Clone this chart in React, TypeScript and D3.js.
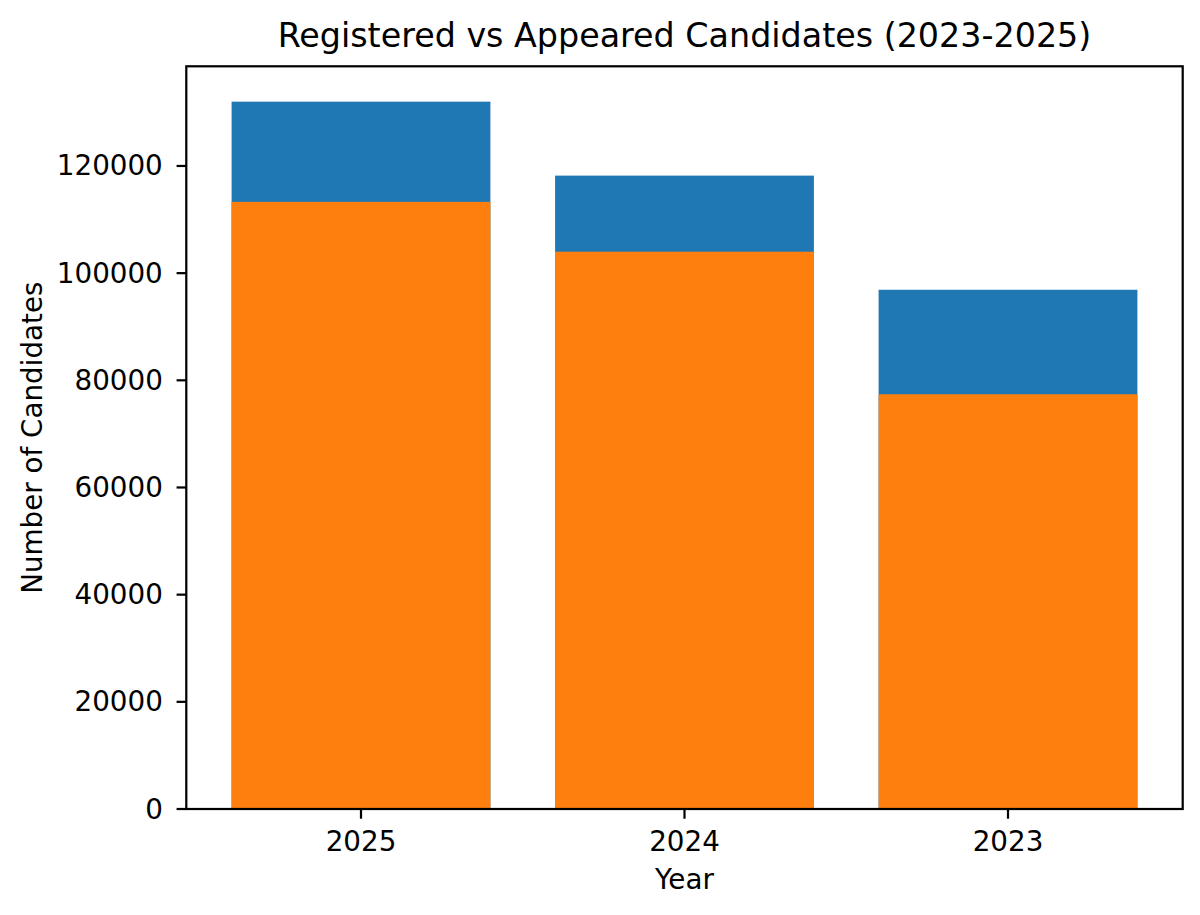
import React from "react";
import * as d3 from "d3";

const years = ["2025", "2024", "2023"];
const registered = [132000, 118200, 96900];
const appeared = [113300, 104000, 77400];
const yTicks = [0, 20000, 40000, 60000, 80000, 100000, 120000];

const W = 1200;
const H = 915;
const left = 186.3;
const right = 1182.7;
const top = 66.3;
const bottom = 809;
const font = "'DejaVu Sans', sans-serif";
const lw = 2.22;
const tickLen = 9.72;
const fs = 27.78;
const titleFs = 33.33;

export default function App() {
  const barW = 0.8;
  const n = years.length;
  const span = n - 1 + barW;
  const x = d3
    .scaleLinear()
    .domain([-barW / 2 - 0.05 * span, n - 1 + barW / 2 + 0.05 * span])
    .range([left, right]);
  const ymax = (d3.max(registered) as number) * 1.05;
  const y = d3.scaleLinear().domain([0, ymax]).range([bottom, top]);
  const fmt = d3.format("d");

  return (
    <svg
      width={W}
      height={H}
      style={{ position: "absolute", left: 0, top: 0, background: "#fff" }}
      fontFamily={font}
    >
      <rect x={0} y={0} width={W} height={H} fill="#fff" />
      {years.map((yr, i) => (
        <g key={yr}>
          <rect
            x={x(i - barW / 2)}
            width={x(i + barW / 2) - x(i - barW / 2)}
            y={y(registered[i])}
            height={y(0) - y(registered[i])}
            fill="#1f77b4"
          />
          <rect
            x={x(i - barW / 2)}
            width={x(i + barW / 2) - x(i - barW / 2)}
            y={y(appeared[i])}
            height={y(0) - y(appeared[i])}
            fill="#ff7f0e"
          />
        </g>
      ))}
      <rect
        x={left}
        y={top}
        width={right - left}
        height={bottom - top}
        fill="none"
        stroke="#000"
        strokeWidth={lw}
      />
      {yTicks.map((t) => (
        <g key={t}>
          <line x1={left - tickLen} x2={left} y1={y(t)} y2={y(t)} stroke="#000" strokeWidth={lw} />
          <text
            x={left - 23.5}
            y={y(t)}
            textAnchor="end"
            dominantBaseline="central"
            fontSize={fs}
            fill="#000"
          >
            {fmt(t)}
          </text>
        </g>
      ))}
      {years.map((yr, i) => (
        <g key={"x" + yr}>
          <line x1={x(i)} x2={x(i)} y1={bottom} y2={bottom + tickLen} stroke="#000" strokeWidth={lw} />
          <text x={x(i)} y={851} textAnchor="middle" fontSize={fs} fill="#000">
            {yr}
          </text>
        </g>
      ))}
      <text x={(left + right) / 2} y={889} textAnchor="middle" fontSize={fs} fill="#000">
        Year
      </text>
      <text
        transform={`translate(42, ${(top + bottom) / 2}) rotate(-90)`}
        textAnchor="middle"
        fontSize={fs}
        fill="#000"
      >
        Number of Candidates
      </text>
      <text x={(left + right) / 2} y={47} textAnchor="middle" fontSize={titleFs} fill="#000">
        Registered vs Appeared Candidates (2023-2025)
      </text>
    </svg>
  );
}
